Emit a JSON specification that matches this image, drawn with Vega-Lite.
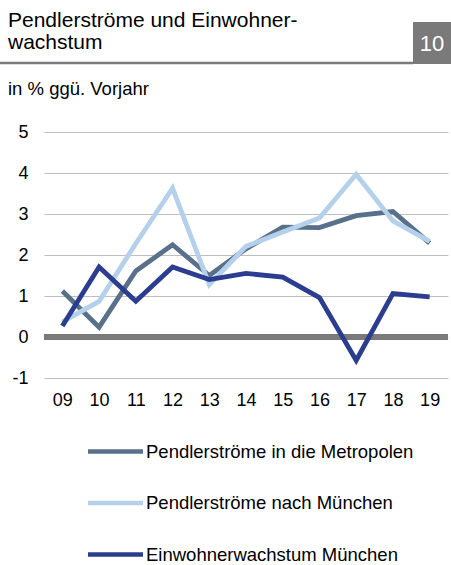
{
  "$schema": "https://vega.github.io/schema/vega-lite/v6.json",
  "autosize": "none",
  "width": 404,
  "height": 246,
  "padding": {"left": 44, "top": 132, "right": 3, "bottom": 187},
  "background": "white",
  "config": {
    "font": "Liberation Sans",
    "view": {"stroke": null},
    "axis": {"labelFont": "Liberation Sans", "labelColor": "#000000", "labelFontSize": 18, "ticks": false, "domain": false, "title": null}
  },
  "title": {
    "text": ["Pendlerströme und Einwohner-", "wachstum"],
    "subtitle": "in % ggü. Vorjahr",
    "anchor": "start",
    "orient": "top",
    "frame": "group",
    "dx": -36,
    "offset": -76,
    "font": "Liberation Sans",
    "fontSize": 21,
    "fontWeight": "normal",
    "color": "#000000",
    "lineHeight": 21.5,
    "subtitleFont": "Liberation Sans",
    "subtitleFontSize": 18.5,
    "subtitleColor": "#000000",
    "subtitlePadding": 27
  },
  "data": {
    "values": [
      {"year": "09", "series": "Pendlerströme in die Metropolen", "value": 1.12},
      {"year": "10", "series": "Pendlerströme in die Metropolen", "value": 0.24},
      {"year": "11", "series": "Pendlerströme in die Metropolen", "value": 1.61},
      {"year": "12", "series": "Pendlerströme in die Metropolen", "value": 2.25},
      {"year": "13", "series": "Pendlerströme in die Metropolen", "value": 1.5},
      {"year": "14", "series": "Pendlerströme in die Metropolen", "value": 2.15},
      {"year": "15", "series": "Pendlerströme in die Metropolen", "value": 2.68},
      {"year": "16", "series": "Pendlerströme in die Metropolen", "value": 2.67},
      {"year": "17", "series": "Pendlerströme in die Metropolen", "value": 2.96},
      {"year": "18", "series": "Pendlerströme in die Metropolen", "value": 3.06},
      {"year": "19", "series": "Pendlerströme in die Metropolen", "value": 2.29},
      {"year": "09", "series": "Pendlerströme nach München", "value": 0.37},
      {"year": "10", "series": "Pendlerströme nach München", "value": 0.87},
      {"year": "11", "series": "Pendlerströme nach München", "value": 2.28},
      {"year": "12", "series": "Pendlerströme nach München", "value": 3.63},
      {"year": "13", "series": "Pendlerströme nach München", "value": 1.28},
      {"year": "14", "series": "Pendlerströme nach München", "value": 2.21},
      {"year": "15", "series": "Pendlerströme nach München", "value": 2.56},
      {"year": "16", "series": "Pendlerströme nach München", "value": 2.9},
      {"year": "17", "series": "Pendlerströme nach München", "value": 3.97},
      {"year": "18", "series": "Pendlerströme nach München", "value": 2.83},
      {"year": "19", "series": "Pendlerströme nach München", "value": 2.33},
      {"year": "09", "series": "Einwohnerwachstum München", "value": 0.27},
      {"year": "10", "series": "Einwohnerwachstum München", "value": 1.71},
      {"year": "11", "series": "Einwohnerwachstum München", "value": 0.87},
      {"year": "12", "series": "Einwohnerwachstum München", "value": 1.71},
      {"year": "13", "series": "Einwohnerwachstum München", "value": 1.4},
      {"year": "14", "series": "Einwohnerwachstum München", "value": 1.55},
      {"year": "15", "series": "Einwohnerwachstum München", "value": 1.46},
      {"year": "16", "series": "Einwohnerwachstum München", "value": 0.96},
      {"year": "17", "series": "Einwohnerwachstum München", "value": -0.57},
      {"year": "18", "series": "Einwohnerwachstum München", "value": 1.06},
      {"year": "19", "series": "Einwohnerwachstum München", "value": 0.98}
    ]
  },
  "layer": [
    {
      "data": {"values": [{"label": "10"}]},
      "mark": {"type": "rule", "stroke": "#7a7a7a", "strokeWidth": 2.5, "clip": false},
      "encoding": {"x": {"value": -44}, "x2": {"value": 369}, "y": {"value": -69}}
    },
    {
      "data": {"values": [{"label": "10"}]},
      "mark": {"type": "rect", "fill": "#7a7a7a", "clip": false},
      "encoding": {"x": {"value": 369}, "x2": {"value": 407}, "y": {"value": -110}, "y2": {"value": -68}}
    },
    {
      "data": {"values": [{"label": "10"}]},
      "mark": {"type": "text", "color": "#ffffff", "font": "Liberation Sans", "fontSize": 22, "align": "center", "baseline": "middle", "clip": false},
      "encoding": {"text": {"field": "label"}, "x": {"value": 388}, "y": {"value": -88}}
    },
    {
      "mark": {"type": "rule", "stroke": "#7a7a7a", "strokeWidth": 5},
      "encoding": {"y": {"datum": 0, "type": "quantitative"}}
    },
    {
      "mark": {"type": "line", "strokeWidth": 4.8, "strokeJoin": "miter", "strokeCap": "butt"},
      "encoding": {
        "x": {"field": "year", "type": "ordinal", "axis": {"labelAngle": 0, "labelPadding": 13, "grid": false}},
        "y": {"field": "value", "type": "quantitative", "scale": {"domain": [-1, 5], "nice": false}, "axis": {"values": [-1, 0, 1, 2, 3, 4, 5], "labelExpr": "datum.value < 0 ? '-' + abs(datum.value) : datum.label", "labelPadding": 16, "grid": true, "gridColor": "#bfbfbf", "gridWidth": 1}},
        "color": {
          "field": "series", "type": "nominal",
          "scale": {"domain": ["Pendlerströme in die Metropolen", "Pendlerströme nach München", "Einwohnerwachstum München"], "range": ["#587089", "#b4d0ea", "#2a3d8f"]},
          "legend": {
            "title": null, "orient": "none", "direction": "vertical", "legendX": 44, "legendY": 292,
            "symbolType": "M-1.09,0H1.09", "symbolSize": 2550, "symbolStrokeWidth": 4.5,
            "labelFont": "Liberation Sans", "labelFontSize": 18.5, "labelColor": "#000000", "labelOffset": 3, "labelLimit": 400, "rowPadding": 14.5
          }
        },
        "order": {"field": "none"}
      }
    }
  ]
}
